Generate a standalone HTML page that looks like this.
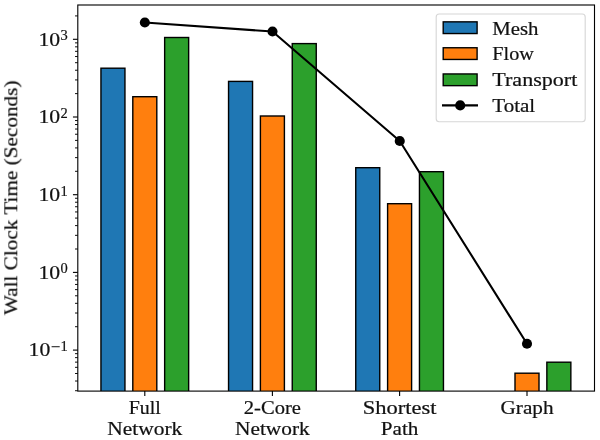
<!DOCTYPE html>
<html><head><meta charset="utf-8"><style>
html,body{margin:0;padding:0;background:#fff;}
body{width:600px;height:440px;overflow:hidden;font-family:"Liberation Serif",serif;}
svg{display:block;}
</style></head><body>
<svg width="600" height="440" viewBox="0 0 600 440">
<rect width="600" height="440" fill="#fff"/>
<defs><clipPath id="ax"><rect x="77.80" y="5.00" width="516.70" height="386.10"/></clipPath></defs>
<g clip-path="url(#ax)">
<rect x="100.95" y="68.20" width="24.00" height="327.90" fill="#1f77b4" stroke="#000" stroke-width="1.40"/>
<rect x="132.80" y="96.70" width="24.00" height="299.40" fill="#ff7f0e" stroke="#000" stroke-width="1.40"/>
<rect x="164.65" y="37.50" width="24.00" height="358.60" fill="#2ca02c" stroke="#000" stroke-width="1.40"/>
<rect x="228.55" y="81.40" width="24.00" height="314.70" fill="#1f77b4" stroke="#000" stroke-width="1.40"/>
<rect x="260.40" y="116.00" width="24.00" height="280.10" fill="#ff7f0e" stroke="#000" stroke-width="1.40"/>
<rect x="292.25" y="43.60" width="24.00" height="352.50" fill="#2ca02c" stroke="#000" stroke-width="1.40"/>
<rect x="355.75" y="167.70" width="24.00" height="228.40" fill="#1f77b4" stroke="#000" stroke-width="1.40"/>
<rect x="387.60" y="203.70" width="24.00" height="192.40" fill="#ff7f0e" stroke="#000" stroke-width="1.40"/>
<rect x="419.45" y="171.70" width="24.00" height="224.40" fill="#2ca02c" stroke="#000" stroke-width="1.40"/>
<rect x="515.00" y="373.20" width="24.00" height="22.90" fill="#ff7f0e" stroke="#000" stroke-width="1.40"/>
<rect x="546.85" y="362.20" width="24.00" height="33.90" fill="#2ca02c" stroke="#000" stroke-width="1.40"/>
<polyline points="144.85,22.50 272.50,31.50 399.75,141.00 527.00,343.80" fill="none" stroke="#000" stroke-width="2.08" stroke-linejoin="round" stroke-linecap="butt"/>
<circle cx="144.85" cy="22.50" r="5.05" fill="#000"/>
<circle cx="272.50" cy="31.50" r="5.05" fill="#000"/>
<circle cx="399.75" cy="141.00" r="5.05" fill="#000"/>
<circle cx="527.00" cy="343.80" r="5.05" fill="#000"/>
</g>
<rect x="77.80" y="5.00" width="516.70" height="386.10" fill="none" stroke="#000" stroke-width="1.11"/>
<line x1="75.02" y1="390.73" x2="77.80" y2="390.73" stroke="#000" stroke-width="0.95"/>
<line x1="75.02" y1="381.02" x2="77.80" y2="381.02" stroke="#000" stroke-width="0.95"/>
<line x1="75.02" y1="373.49" x2="77.80" y2="373.49" stroke="#000" stroke-width="0.95"/>
<line x1="75.02" y1="367.34" x2="77.80" y2="367.34" stroke="#000" stroke-width="0.95"/>
<line x1="75.02" y1="362.14" x2="77.80" y2="362.14" stroke="#000" stroke-width="0.95"/>
<line x1="75.02" y1="357.63" x2="77.80" y2="357.63" stroke="#000" stroke-width="0.95"/>
<line x1="75.02" y1="353.66" x2="77.80" y2="353.66" stroke="#000" stroke-width="0.95"/>
<line x1="72.94" y1="350.10" x2="77.80" y2="350.10" stroke="#000" stroke-width="1.11"/>
<line x1="75.02" y1="326.71" x2="77.80" y2="326.71" stroke="#000" stroke-width="0.95"/>
<line x1="75.02" y1="313.03" x2="77.80" y2="313.03" stroke="#000" stroke-width="0.95"/>
<line x1="75.02" y1="303.32" x2="77.80" y2="303.32" stroke="#000" stroke-width="0.95"/>
<line x1="75.02" y1="295.79" x2="77.80" y2="295.79" stroke="#000" stroke-width="0.95"/>
<line x1="75.02" y1="289.64" x2="77.80" y2="289.64" stroke="#000" stroke-width="0.95"/>
<line x1="75.02" y1="284.44" x2="77.80" y2="284.44" stroke="#000" stroke-width="0.95"/>
<line x1="75.02" y1="279.93" x2="77.80" y2="279.93" stroke="#000" stroke-width="0.95"/>
<line x1="75.02" y1="275.96" x2="77.80" y2="275.96" stroke="#000" stroke-width="0.95"/>
<line x1="72.94" y1="272.40" x2="77.80" y2="272.40" stroke="#000" stroke-width="1.11"/>
<line x1="75.02" y1="249.01" x2="77.80" y2="249.01" stroke="#000" stroke-width="0.95"/>
<line x1="75.02" y1="235.33" x2="77.80" y2="235.33" stroke="#000" stroke-width="0.95"/>
<line x1="75.02" y1="225.62" x2="77.80" y2="225.62" stroke="#000" stroke-width="0.95"/>
<line x1="75.02" y1="218.09" x2="77.80" y2="218.09" stroke="#000" stroke-width="0.95"/>
<line x1="75.02" y1="211.94" x2="77.80" y2="211.94" stroke="#000" stroke-width="0.95"/>
<line x1="75.02" y1="206.74" x2="77.80" y2="206.74" stroke="#000" stroke-width="0.95"/>
<line x1="75.02" y1="202.23" x2="77.80" y2="202.23" stroke="#000" stroke-width="0.95"/>
<line x1="75.02" y1="198.26" x2="77.80" y2="198.26" stroke="#000" stroke-width="0.95"/>
<line x1="72.94" y1="194.70" x2="77.80" y2="194.70" stroke="#000" stroke-width="1.11"/>
<line x1="75.02" y1="171.31" x2="77.80" y2="171.31" stroke="#000" stroke-width="0.95"/>
<line x1="75.02" y1="157.63" x2="77.80" y2="157.63" stroke="#000" stroke-width="0.95"/>
<line x1="75.02" y1="147.92" x2="77.80" y2="147.92" stroke="#000" stroke-width="0.95"/>
<line x1="75.02" y1="140.39" x2="77.80" y2="140.39" stroke="#000" stroke-width="0.95"/>
<line x1="75.02" y1="134.24" x2="77.80" y2="134.24" stroke="#000" stroke-width="0.95"/>
<line x1="75.02" y1="129.04" x2="77.80" y2="129.04" stroke="#000" stroke-width="0.95"/>
<line x1="75.02" y1="124.53" x2="77.80" y2="124.53" stroke="#000" stroke-width="0.95"/>
<line x1="75.02" y1="120.56" x2="77.80" y2="120.56" stroke="#000" stroke-width="0.95"/>
<line x1="72.94" y1="117.00" x2="77.80" y2="117.00" stroke="#000" stroke-width="1.11"/>
<line x1="75.02" y1="93.61" x2="77.80" y2="93.61" stroke="#000" stroke-width="0.95"/>
<line x1="75.02" y1="79.93" x2="77.80" y2="79.93" stroke="#000" stroke-width="0.95"/>
<line x1="75.02" y1="70.22" x2="77.80" y2="70.22" stroke="#000" stroke-width="0.95"/>
<line x1="75.02" y1="62.69" x2="77.80" y2="62.69" stroke="#000" stroke-width="0.95"/>
<line x1="75.02" y1="56.54" x2="77.80" y2="56.54" stroke="#000" stroke-width="0.95"/>
<line x1="75.02" y1="51.34" x2="77.80" y2="51.34" stroke="#000" stroke-width="0.95"/>
<line x1="75.02" y1="46.83" x2="77.80" y2="46.83" stroke="#000" stroke-width="0.95"/>
<line x1="75.02" y1="42.86" x2="77.80" y2="42.86" stroke="#000" stroke-width="0.95"/>
<line x1="72.94" y1="39.30" x2="77.80" y2="39.30" stroke="#000" stroke-width="1.11"/>
<line x1="75.02" y1="15.91" x2="77.80" y2="15.91" stroke="#000" stroke-width="0.95"/>
<line x1="144.80" y1="391.10" x2="144.80" y2="395.96" stroke="#000" stroke-width="1.11"/>
<line x1="272.40" y1="391.10" x2="272.40" y2="395.96" stroke="#000" stroke-width="1.11"/>
<line x1="399.60" y1="391.10" x2="399.60" y2="395.96" stroke="#000" stroke-width="1.11"/>
<line x1="527.00" y1="391.10" x2="527.00" y2="395.96" stroke="#000" stroke-width="1.11"/>
<rect x="436.2" y="14.0" width="149.0" height="107.8" rx="3" ry="3" fill="#fff" fill-opacity="0.8" stroke="#d6d6d6" stroke-width="1.11"/>
<rect x="443.2" y="21.85" width="33.9" height="11.7" fill="#1f77b4" stroke="#000" stroke-width="1.39"/>
<rect x="443.2" y="47.75" width="33.9" height="11.7" fill="#ff7f0e" stroke="#000" stroke-width="1.39"/>
<rect x="443.2" y="73.95" width="33.9" height="11.7" fill="#2ca02c" stroke="#000" stroke-width="1.39"/>
<line x1="442.0" y1="105.4" x2="478.0" y2="105.4" stroke="#000" stroke-width="2.08"/>
<circle cx="460.2" cy="105.4" r="5.05" fill="#000"/>
<g style="filter:grayscale(1)">
<text x="492.30" y="34.60" font-size="18.00" text-anchor="start" textLength="46.20" lengthAdjust="spacingAndGlyphs" font-family="Liberation Serif" fill="#111" stroke="#111" stroke-width="0.2" >Mesh</text>
<text x="492.30" y="60.40" font-size="18.00" text-anchor="start" textLength="41.50" lengthAdjust="spacingAndGlyphs" font-family="Liberation Serif" fill="#111" stroke="#111" stroke-width="0.2" >Flow</text>
<text x="492.30" y="86.00" font-size="18.00" text-anchor="start" textLength="85.00" lengthAdjust="spacingAndGlyphs" font-family="Liberation Serif" fill="#111" stroke="#111" stroke-width="0.2" >Transport</text>
<text x="492.30" y="111.80" font-size="18.00" text-anchor="start" textLength="42.90" lengthAdjust="spacingAndGlyphs" font-family="Liberation Serif" fill="#111" stroke="#111" stroke-width="0.2" >Total</text>
<text x="144.80" y="414.20" font-size="18.00" text-anchor="middle" textLength="32.10" lengthAdjust="spacingAndGlyphs" font-family="Liberation Serif" fill="#111" stroke="#111" stroke-width="0.2" >Full</text>
<text x="144.80" y="434.50" font-size="18.00" text-anchor="middle" textLength="75.00" lengthAdjust="spacingAndGlyphs" font-family="Liberation Serif" fill="#111" stroke="#111" stroke-width="0.2" >Network</text>
<text x="272.40" y="414.20" font-size="18.00" text-anchor="middle" textLength="57.10" lengthAdjust="spacingAndGlyphs" font-family="Liberation Serif" fill="#111" stroke="#111" stroke-width="0.2" >2-Core</text>
<text x="272.40" y="434.50" font-size="18.00" text-anchor="middle" textLength="74.70" lengthAdjust="spacingAndGlyphs" font-family="Liberation Serif" fill="#111" stroke="#111" stroke-width="0.2" >Network</text>
<text x="399.60" y="414.20" font-size="18.00" text-anchor="middle" textLength="73.70" lengthAdjust="spacingAndGlyphs" font-family="Liberation Serif" fill="#111" stroke="#111" stroke-width="0.2" >Shortest</text>
<text x="399.60" y="434.50" font-size="18.00" text-anchor="middle" textLength="37.50" lengthAdjust="spacingAndGlyphs" font-family="Liberation Serif" fill="#111" stroke="#111" stroke-width="0.2" >Path</text>
<text x="527.00" y="414.20" font-size="18.00" text-anchor="middle" textLength="53.00" lengthAdjust="spacingAndGlyphs" font-family="Liberation Serif" fill="#111" stroke="#111" stroke-width="0.2" >Graph</text>
<text transform="translate(17.3,197.8) rotate(-90)" x="0" y="0" font-size="18.00" text-anchor="middle" textLength="234.5" lengthAdjust="spacingAndGlyphs" font-family="Liberation Serif" fill="#111" stroke="#111" stroke-width="0.2">Wall Clock Time (Seconds)</text>
<text transform="translate(38.40,45.65) scale(1.126,1)" font-size="19.30" font-family="Liberation Serif" fill="#111" stroke="#111" stroke-width="0.2">10</text>
<text transform="translate(60.50,40.15) scale(1.050,1)" font-size="13.80" font-family="Liberation Serif" fill="#111" stroke="#111" stroke-width="0.2">3</text>
<text transform="translate(38.40,123.35) scale(1.126,1)" font-size="19.30" font-family="Liberation Serif" fill="#111" stroke="#111" stroke-width="0.2">10</text>
<text transform="translate(60.50,117.85) scale(1.050,1)" font-size="13.80" font-family="Liberation Serif" fill="#111" stroke="#111" stroke-width="0.2">2</text>
<text transform="translate(38.40,201.05) scale(1.126,1)" font-size="19.30" font-family="Liberation Serif" fill="#111" stroke="#111" stroke-width="0.2">10</text>
<text transform="translate(60.50,195.55) scale(1.050,1)" font-size="13.80" font-family="Liberation Serif" fill="#111" stroke="#111" stroke-width="0.2">1</text>
<text transform="translate(38.40,278.75) scale(1.126,1)" font-size="19.30" font-family="Liberation Serif" fill="#111" stroke="#111" stroke-width="0.2">10</text>
<text transform="translate(60.50,273.25) scale(1.050,1)" font-size="13.80" font-family="Liberation Serif" fill="#111" stroke="#111" stroke-width="0.2">0</text>
<text transform="translate(28.60,356.45) scale(1.126,1)" font-size="19.30" font-family="Liberation Serif" fill="#111" stroke="#111" stroke-width="0.2">10</text>
<line x1="51.6" x2="59.7" y1="346.70" y2="346.70" stroke="#262626" stroke-width="1.1"/>
<text transform="translate(60.40,350.95) scale(1.050,1)" font-size="13.80" font-family="Liberation Serif" fill="#111" stroke="#111" stroke-width="0.2">1</text>
</g>
</svg>
</body></html>
